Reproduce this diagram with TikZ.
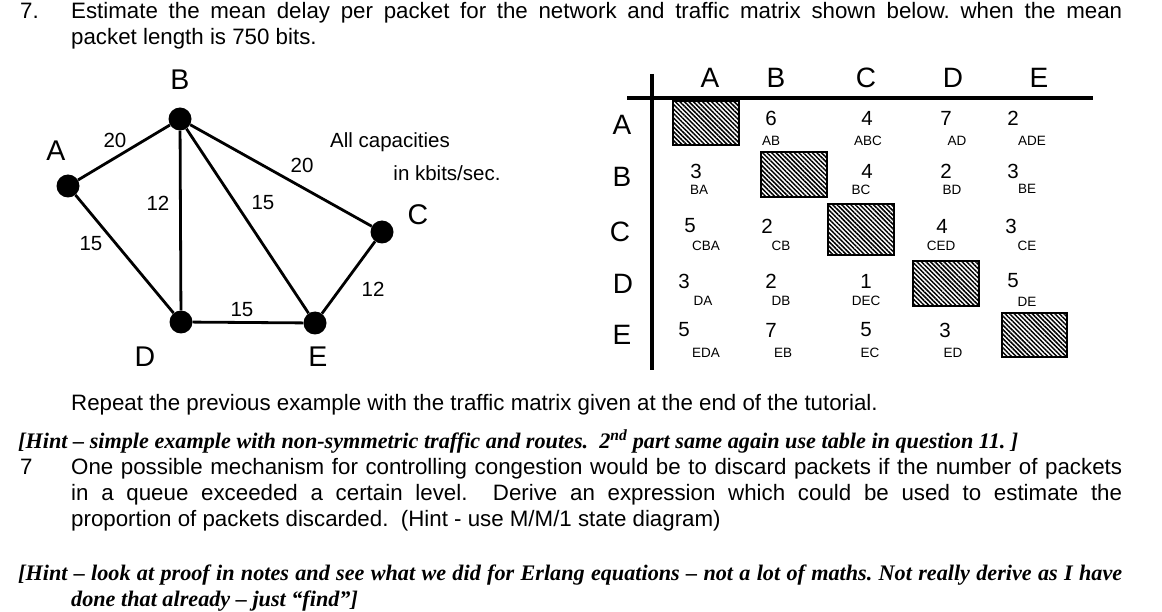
\documentclass[tikz,border=0pt]{standalone}
\usepackage{fontspec}
\setmainfont{Liberation Sans}
\newfontfamily\timesf{Liberation Serif}
\usetikzlibrary{patterns.meta}
\frenchspacing
\begin{document}
\begin{tikzpicture}[x=1pt,y=-1pt,
  txt/.style={anchor=base west,inner sep=0pt,font=\fontsize{22.3}{26}\selectfont},
  hint/.style={anchor=base west,inner sep=0pt,font=\timesf\bfseries\itshape\fontsize{22.2}{26}\selectfont},
  vert/.style={circle,fill=black,minimum size=23pt,inner sep=0pt},
  vlab/.style={inner sep=0pt,font=\fontsize{28.5}{30}\selectfont},
  elab/.style={inner sep=0pt,font=\fontsize{20.5}{22}\selectfont},
  edge/.style={line width=2.8pt},
  hdr/.style={inner sep=0pt,font=\fontsize{28}{30}\selectfont},
  num/.style={inner sep=0pt,font=\fontsize{20.5}{22}\selectfont},
  rte/.style={inner sep=0pt,font=\fontsize{13.5}{15}\selectfont},
  hatch/.style={draw=black,line width=1.2pt,pattern={Lines[angle=-45,distance=3.2pt,line width=1.5pt]}},
  rule/.style={line width=4pt}]
\useasboundingbox (0,0) rectangle (1162,612);

% top text
\node[txt] (n7a) at (20,19) {7.};
\node[txt] (l1) at (71,19) {\makebox[1051pt][s]{Estimate the mean delay per packet for the network and traffic matrix shown below. when the mean}};
\node[txt] (l2) at (71,45) {packet length is 750 bits.};

% network
\node[vert] (A) at (68,186) {};
\node[vert] (B) at (180,119) {};
\node[vert] (C) at (382,232) {};
\node[vert] (D) at (181,322) {};
\node[vert] (E) at (315,323) {};
\draw[edge] (A) -- (B);
\draw[edge] (A) -- (D);
\draw[edge] (B) -- (D);
\draw[edge] (B) -- (E);
\draw[edge] (B) -- (C);
\draw[edge] (C) -- (E);
\draw[edge] (D) -- (E);
\node[vlab] (lA) at (56,151) {A};
\node[vlab] (lB) at (180,80) {B};
\node[vlab] (lC) at (418,215) {C};
\node[vlab] (lD) at (145,357) {D};
\node[vlab] (lE) at (318,357) {E};
\node[elab] (eAB) at (115,140) {20};
\node[elab] (eBD) at (158,203) {12};
\node[elab] (eBE) at (263,203) {15};
\node[elab] (eBC) at (302,165) {20};
\node[elab] (eAD) at (91,244) {15};
\node[elab] (eDE) at (242,310) {15};
\node[elab] (eCE) at (373,289) {12};
\node[elab] (cap1) at (390,142) {All capacities};
\node[elab] (cap2) at (447,173) {in kbits/sec.};

% table
\coordinate (v1) at (652,74);
\coordinate (v2) at (652,370);
\coordinate (h1) at (627,98);
\coordinate (h2) at (1093,98);
\draw[rule] (v1) -- (v2);
\draw[rule] (h1) -- (h2);
\node[hdr] (cA) at (710,78) {A};
\node[hdr] (cB) at (776,78) {B};
\node[hdr] (cC) at (866,78) {C};
\node[hdr] (cD) at (953,78) {D};
\node[hdr] (cE) at (1039,78) {E};
\node[hdr] (rA) at (622,125) {A};
\node[hdr] (rB) at (622,177) {B};
\node[hdr] (rC) at (620,232) {C};
\node[hdr] (rD) at (623,284) {D};
\node[hdr] (rE) at (622,335) {E};

\path[hatch] (673,101) rectangle (739,145);
\path[hatch] (761,152) rectangle (827,197);
\path[hatch] (828,204) rectangle (894,255);
\path[hatch] (913,261) rectangle (979,306);
\path[hatch] (1002,313) rectangle (1067,357);

% row A
\node[num] at (771,118) {6}; \node[rte] at (771,141) {AB};
\node[num] at (867,118) {4}; \node[rte] at (868,141) {ABC};
\node[num] at (946,118) {7}; \node[rte] at (957,141) {AD};
\node[num] at (1013,118) {2}; \node[rte] at (1032,141) {ADE};
% row B
\node[num] at (696,171) {3}; \node[rte] at (699,190) {BA};
\node[num] at (867,171) {4}; \node[rte] at (861,190) {BC};
\node[num] at (946,171) {2}; \node[rte] at (952,190) {BD};
\node[num] at (1013,171) {3}; \node[rte] at (1027,189) {BE};
% row C
\node[num] at (690,226) {5}; \node[rte] at (706,246) {CBA};
\node[num] at (767,226) {2}; \node[rte] at (781,246) {CB};
\node[num] at (942,226) {4}; \node[rte] at (941,246) {CED};
\node[num] at (1011,226) {3}; \node[rte] at (1027,246) {CE};
% row D
\node[num] at (684,281) {3}; \node[rte] at (703,301) {DA};
\node[num] at (771,281) {2}; \node[rte] at (781,301) {DB};
\node[num] at (866,281) {1}; \node[rte] at (866,301) {DEC};
\node[num] at (1013,281) {5}; \node[rte] at (1027,302) {DE};
% row E
\node[num] at (684,330) {5}; \node[rte] at (706,353) {EDA};
\node[num] at (771,330) {7}; \node[rte] at (783,353) {EB};
\node[num] at (866,330) {5}; \node[rte] at (870,353) {EC};
\node[num] at (945,330) {3}; \node[rte] at (953,353) {ED};

% lower text
\node[txt] (rep) at (71,410) {Repeat the previous example with the traffic matrix given at the end of the tutorial.};
\node[hint] (h1t) at (18,448) {[Hint – simple example with non-symmetric traffic and routes.\ \ 2\textsuperscript{nd} part same again use table in question 11. ]};
\node[txt] (n7b) at (20,474) {7};
\node[txt] (p1) at (71,474) {\makebox[1051pt][s]{One possible mechanism for controlling congestion would be to discard packets if the number of packets}};
\node[txt] (p2) at (71,500) {\makebox[1051pt][s]{in a queue exceeded a certain level.\ \ Derive an expression which could be used to estimate the}};
\node[txt] (p3) at (71,526) {proportion of packets discarded.\ \ (Hint - use M/M/1 state diagram)};
\node[hint] (h2t) at (18,580) {\makebox[1104pt][s]{[Hint – look at proof in notes and see what we did for Erlang equations – not a lot of maths. Not really derive as I have}};
\node[hint] (h3t) at (71,606) {done that already – just “find”]};
\end{tikzpicture}
\end{document}
